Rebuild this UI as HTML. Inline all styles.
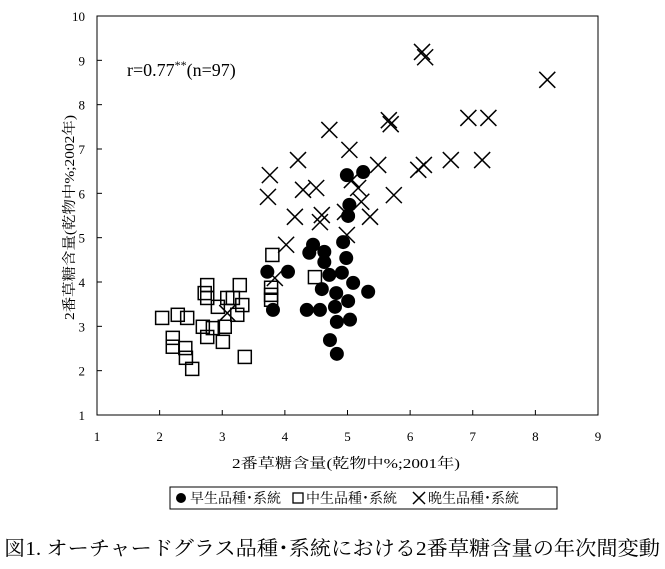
<!DOCTYPE html>
<html><head><meta charset="utf-8">
<style>
body{margin:0;background:#fff;}
svg text{font-family:"Liberation Serif","Noto Serif CJK SC",serif;fill:#000;}
</style></head>
<body>
<svg id="chart" width="665" height="564" viewBox="0 0 665 564" xmlns="http://www.w3.org/2000/svg">
<rect x="97" y="16" width="501" height="399" fill="none" stroke="#000" stroke-width="1"/>
<g id="ticks"></g>
<g id="marks"></g>
<text x="127" y="76" font-size="18">r=0.77<tspan font-size="12" dy="-7">**</tspan><tspan dy="7">(n=97)</tspan></text>
<text x="232" y="468" font-size="14" textLength="228" lengthAdjust="spacingAndGlyphs">2番草糖含量(乾物中%;2001年)</text>
<text transform="translate(74,320) rotate(-90)" font-size="14" textLength="205" lengthAdjust="spacingAndGlyphs">2番草糖含量(乾物中%;2002年)</text>
<g>
<rect x="170" y="487" width="387" height="22" fill="none" stroke="#000" stroke-width="1"/>
<circle cx="181" cy="498" r="5" fill="#000"/>
<text x="190" y="503" font-size="14">早生品種･系統</text>
<rect x="293" y="493" width="10" height="10" fill="none" stroke="#000" stroke-width="1.3"/>
<text x="306" y="503" font-size="14">中生品種･系統</text>
<path d="M413,492 L425,504 M425,492 L413,504" stroke="#000" stroke-width="1.5"/>
<text x="428" y="503" font-size="14">晩生品種･系統</text>
</g>
<text x="4" y="555" font-size="20" textLength="656" lengthAdjust="spacingAndGlyphs">図1. オーチャードグラス品種･系統における2番草糖含量の年次間変動</text>
</svg>
<script>
const xTicks=[1,2,3,4,5,6,7,8,9];
const yTicks=[1,2,3,4,5,6,7,8,9,10];
const earlyX=[4.99,5.25,5.03,5.01,4.93,4.45,4.39,4.63,4.63,4.98,3.72,4.05,4.71,4.91,5.09,5.33,4.59,4.82,5.01,4.80,4.35,4.56,3.81,4.83,5.04,4.72,4.83];
const earlyY=[6.41,6.48,5.74,5.49,4.90,4.84,4.66,4.68,4.45,4.54,4.23,4.23,4.16,4.21,3.98,3.78,3.84,3.75,3.57,3.44,3.37,3.37,3.37,3.10,3.15,2.69,2.38];
const midX=[2.04,2.29,2.44,2.21,2.21,2.41,2.42,2.52,2.76,2.72,2.76,3.08,3.17,3.28,3.32,2.93,3.24,2.69,2.85,3.04,2.76,3.01,3.36,3.80,4.48,3.78,3.78,3.78];
const midY=[3.19,3.26,3.19,2.74,2.54,2.51,2.29,2.04,3.93,3.75,3.64,3.64,3.64,3.93,3.48,3.44,3.26,2.99,2.96,2.99,2.76,2.65,2.31,4.61,4.11,3.87,3.71,3.60];
const lateX=[6.19,6.24,8.19,5.66,5.69,6.93,7.25,4.71,5.03,4.21,3.76,6.65,6.22,6.13,7.15,4.29,4.50,5.49,5.17,3.73,5.74,4.16,4.59,5.22,5.36,4.96,4.56,4.02,3.84,3.08,4.99,5.07];
const lateY=[9.19,9.07,8.56,7.65,7.56,7.70,7.70,7.43,6.98,6.75,6.41,6.75,6.64,6.53,6.75,6.08,6.12,6.64,6.12,5.92,5.96,5.47,5.51,5.81,5.47,5.58,5.35,4.84,4.09,3.30,5.06,6.30];
const X0=97,X1=598,Y0=415,Y1=16;
function sx(v){return X0+(v-1)/8*(X1-X0);}
function sy(v){return Y0-(v-1)/9*(Y0-Y1);}
const NS="http://www.w3.org/2000/svg";
const tg=document.getElementById('ticks');
const mg=document.getElementById('marks');
function mk(tag,attrs,parent){const e=document.createElementNS(NS,tag);for(const k in attrs)e.setAttribute(k,attrs[k]);parent.appendChild(e);return e;}
xTicks.forEach(v=>{
  const t=mk('line',{x1:sx(v),x2:sx(v),y1:Y0,y2:Y0-5,stroke:'#000'},tg);
  
  
  const l=mk('text',{x:sx(v),y:Y0+26,'font-size':13,'text-anchor':'middle'},tg);
  l.textContent=v;
  
  
});
yTicks.forEach(v=>{
  const t=mk('line',{x1:X0,x2:X0+5,y1:sy(v),y2:sy(v),stroke:'#000'},tg);
  
  
  const l=mk('text',{x:X0-12,y:sy(v)+5,'font-size':13,'text-anchor':'end'},tg);
  l.textContent=v;
  
  
});
midX.forEach((v,i)=>{
  const e=mk('rect',{x:sx(v)-6.5,y:sy(midY[i])-6.5,width:13,height:13,fill:'none',stroke:'#000','stroke-width':1.5},mg);
  
  
});
lateX.forEach((v,i)=>{
  const cx=sx(v),cy=sy(lateY[i]);
  const e=mk('path',{d:`M${cx-8},${cy-8}L${cx+8},${cy+8}M${cx+8},${cy-8}L${cx-8},${cy+8}`,stroke:'#000','stroke-width':1.5,fill:'none'},mg);
  
  
});
earlyX.forEach((v,i)=>{
  const e=mk('circle',{cx:sx(v),cy:sy(earlyY[i]),r:7,fill:'#000'},mg);
  
  
});
</script>
</body></html>
